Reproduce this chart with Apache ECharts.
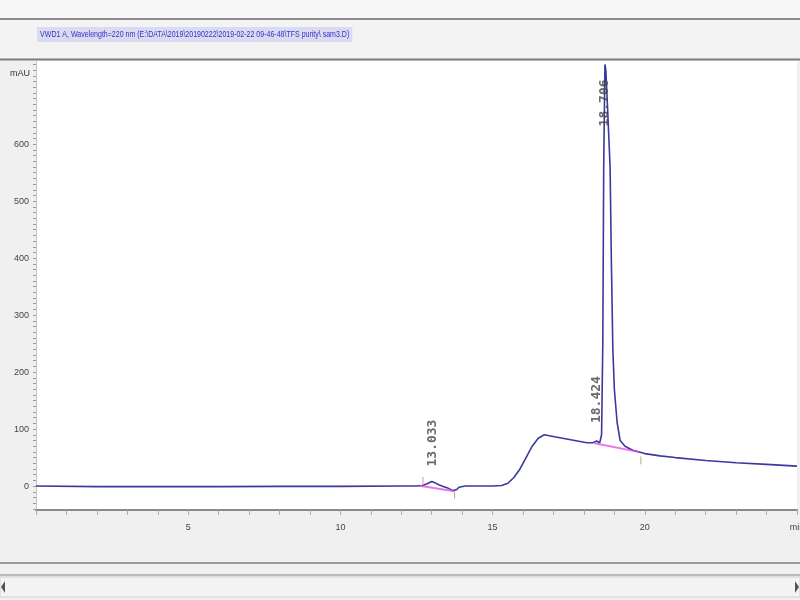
<!DOCTYPE html>
<html>
<head>
<meta charset="utf-8">
<script src="https://cdn.jsdelivr.net/npm/echarts@6/dist/echarts.min.js"></script>
<style>html,body{margin:0;padding:0;background:#f0f0f0;}#c{width:800px;height:600px;}</style>
</head>
<body>
<div id="c"></div>
<script>
// ---- data ----
const titleText = 'VWD1 A, Wavelength=220 nm (E:\\DATA\\2019\\20190222\\2019-02-22 09-46-48\\TFS purity\\ sam3.D)';
const times  = [0, 2, 4, 6, 8, 10, 12, 12.5, 12.7, 12.85, 13.0, 13.1, 13.25, 13.4, 13.55, 13.7, 13.75, 13.82, 13.9, 14.1, 15.0, 15.3, 15.5, 15.7, 15.9, 16.1, 16.3, 16.5, 16.7, 16.9, 17.3, 17.7, 18.1, 18.3, 18.42, 18.52, 18.58, 18.62, 18.65, 18.69, 18.72, 18.78, 18.86, 18.9, 18.95, 19.0, 19.09, 19.19, 19.35, 19.6, 20.0, 20.5, 21, 22, 23, 24, 25];
const signal = [0, -1, -1, -1, -0.5, -0.5, 0, 0, 1, 4, 8, 6, 2, -1, -4, -8, -10, -6, -2, 0, 0, 1, 5, 15, 30, 50, 70, 84, 90, 88, 84, 80, 76, 76, 79, 76, 90, 250, 560, 740, 730, 660, 560, 400, 240, 170, 112, 80, 70, 63, 57, 53, 50, 45, 41, 38, 35];
const baseline1 = [[12.6, 0.5], [13.75, -9]];
const baseline2 = [[18.35, 75], [19.8, 60]];
const markerTimes = [12.71, 13.75, 19.87];
const markerFrom  = [2, -10, 52];
const markerTo    = [16, -22, 38];
const peakTimes   = [13.03, 18.43, 18.69];
const peakHeights = [8, 79, 740];
const peakLabels  = ['13.033', '18.424', '18.706'];
const yTickLabels = [0, 100, 200, 300, 400, 500, 600];
const xTickLabels = [5, 10, 15, 20, 25];
const yUnit = 'mAU';
const xUnit = 'min';

const yMinor = []; for (let v = -40; v <= 740; v += 10) yMinor.push(v);
const xMinor = []; for (let v = 0; v <= 25; v += 1) xMinor.push(v);

const markerData = [];
markerTimes.forEach((t, i) => { markerData.push([t, markerFrom[i]], [t, markerTo[i]], [t, null]); });

const chart = echarts.init(document.getElementById('c'), null, {renderer: 'canvas'});
const peakStyle = [
  {position: 'top', distance: 15},
  {position: 'top', distance: 18},
  {position: [0, 62], distance: 0}
];
chart.setOption({
  animation: false,
  backgroundColor: '#f0f0f0',
  graphic: [
    {type: 'rect', shape: {x: 0, y: 0, width: 800, height: 18}, style: {fill: '#f7f7f7'}, silent: true, z: -10},
    {type: 'line', shape: {x1: 0, y1: 19, x2: 800, y2: 19}, style: {stroke: '#8c8c8c', lineWidth: 2}, silent: true},
    {type: 'rect', shape: {x: 0, y: 20, width: 800, height: 38}, style: {fill: '#f3f3f3'}, silent: true, z: -10},
    {type: 'text', x: 37, y: 27, scaleX: 0.78, silent: true, z: 10,
      style: {text: titleText, fontSize: 9, fill: '#3434c8', backgroundColor: '#dadaf0', padding: [3, 4],
        fontFamily: "'Liberation Sans','DejaVu Sans',sans-serif"}},
    {type: 'line', shape: {x1: 0, y1: 59.5, x2: 800, y2: 59.5}, style: {stroke: '#7c7c7c', lineWidth: 2}, silent: true},
    {type: 'line', shape: {x1: 0, y1: 563, x2: 800, y2: 563}, style: {stroke: '#9a9a9a', lineWidth: 2}, silent: true},
    {type: 'line', shape: {x1: 0, y1: 575, x2: 800, y2: 575}, style: {stroke: '#a8a8a8', lineWidth: 1.5}, silent: true},
    {type: 'rect', shape: {x: 0, y: 577, width: 800, height: 20}, style: {fill: '#f4f4f4', stroke: '#d0d0d0'}, silent: true},
    {type: 'polygon', shape: {points: [[5, 581], [5, 593], [1, 587]]}, style: {fill: '#555'}, silent: true},
    {type: 'polygon', shape: {points: [[795, 581], [795, 593], [799, 587]]}, style: {fill: '#555'}, silent: true}
  ],
  grid: {left: 36, right: 3, top: 61, bottom: 90, show: true, backgroundColor: '#ffffff', borderWidth: 0,
    containLabel: false, outerBoundsMode: 'none'},
  xAxis: {
    type: 'value', min: 0, max: 25,
    axisLine: {show: true, onZero: false, lineStyle: {color: '#8a8a8a', width: 2}},
    axisTick: {show: true, length: 5, lineStyle: {color: '#aaa'}, customValues: xMinor},
    axisLabel: {show: true, customValues: xTickLabels, margin: 13, fontSize: 9, color: '#444',
      formatter: v => (v === 25 ? xUnit : String(v))},
    splitLine: {show: false}
  },
  yAxis: {
    type: 'value', min: -42, max: 746,
    name: yUnit, nameLocation: 'end', nameGap: -17,
    nameTextStyle: {fontSize: 9, color: '#333', align: 'right', padding: [0, 6, 0, 0]},
    axisLine: {show: true, lineStyle: {color: '#c8c8c8', width: 1}},
    axisTick: {show: true, length: 3, lineStyle: {color: '#999'}, customValues: yMinor},
    axisLabel: {show: true, customValues: yTickLabels, margin: 7, fontSize: 9, color: '#444'},
    splitLine: {show: false}
  },
  series: [
    {
      type: 'line', name: 'signal', data: times.map((t, i) => [t, signal[i]]),
      showSymbol: false, symbol: 'none', smooth: false, z: 3,
      lineStyle: {color: '#3a3a9e', width: 1.6}
    },
    {
      type: 'line', data: baseline1, showSymbol: false, symbol: 'none', z: 4,
      lineStyle: {color: 'rgba(230,70,230,0.75)', width: 2}
    },
    {
      type: 'line', data: baseline2, showSymbol: false, symbol: 'none', z: 4,
      lineStyle: {color: 'rgba(230,70,230,0.75)', width: 2}
    },
    {
      type: 'line', data: markerData, showSymbol: false, symbol: 'none', z: 4, connectNulls: false,
      lineStyle: {color: '#b8b070', width: 1}
    },
    {
      type: 'scatter', symbolSize: 0, z: 5,
      data: peakTimes.map((t, i) => ({
        value: [t, peakHeights[i]],
        label: Object.assign({show: true, formatter: peakLabels[i], rotate: 90, align: 'left', verticalAlign: 'middle',
          fontSize: 13, fontWeight: 'bold', color: '#444', fontFamily: 'DejaVu Sans Mono, monospace'}, peakStyle[i])
      }))
    }
  ]
});
</script>
</body>
</html>
